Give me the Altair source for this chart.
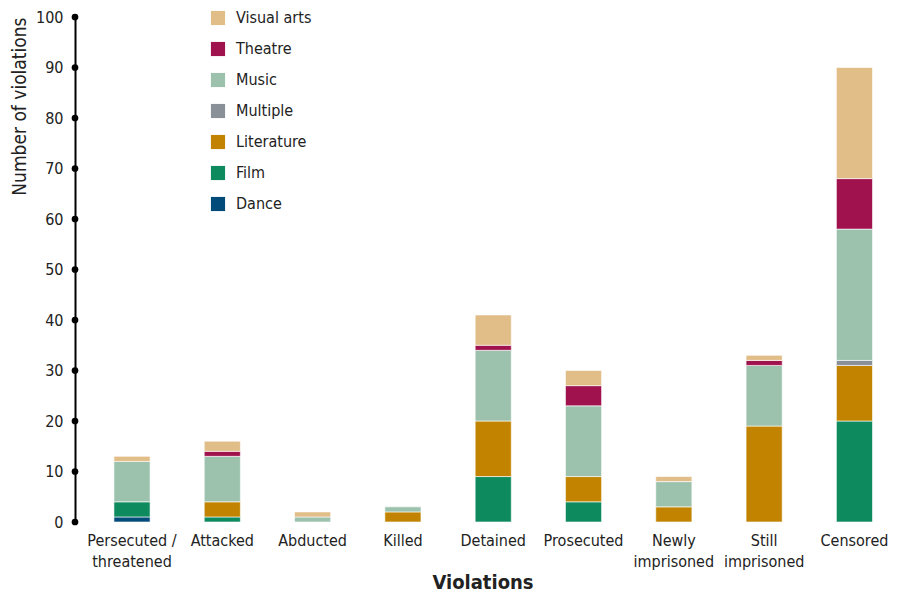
import altair as alt
import pandas as pd

violations = ["Persecuted /\nthreatened", "Attacked", "Abducted", "Killed", "Detained",
              "Prosecuted", "Newly\nimprisoned", "Still\nimprisoned", "Censored"]
# bottom -> top stacking order
art_forms = ["Dance", "Film", "Literature", "Multiple", "Music", "Theatre", "Visual arts"]
colors = ["#004b7a", "#0e8a5f", "#c28400", "#8a9098", "#9cc2ad", "#a0124e", "#e1bd88"]

dance =      [1, 0, 0, 0, 0, 0, 0, 0, 0]
film =       [3, 1, 0, 0, 9, 4, 0, 0, 20]
literature = [0, 3, 0, 2, 11, 5, 3, 19, 11]
multiple =   [0, 0, 0, 0, 0, 0, 0, 0, 1]
music =      [8, 9, 1, 1, 14, 14, 5, 12, 26]
theatre =    [0, 1, 0, 0, 1, 4, 0, 1, 10]
visual_arts = [1, 2, 1, 0, 6, 3, 1, 1, 22]

y_ticks = [0, 10, 20, 30, 40, 50, 60, 70, 80, 90, 100]

series = [dance, film, literature, multiple, music, theatre, visual_arts]
rows = []
for k, (name, vals) in enumerate(zip(art_forms, series)):
    for v, val in zip(violations, vals):
        if val > 0:
            rows.append({"violation": v, "art": name, "count": val, "ord": k})
df = pd.DataFrame(rows)
ticks_df = pd.DataFrame({"t": y_ticks})

FONT = "'DejaVu Sans Condensed', 'Roboto', sans-serif"

yscale = alt.Scale(domain=[0, 100], nice=False)
yaxis = alt.Axis(values=y_ticks, domainColor="black", domainWidth=2,
                 ticks=False, grid=False, labelPadding=12, labelFontSize=16,
                 labelColor="#222", titleFontSize=19, titleFontWeight="normal",
                 titleColor="#222", titlePadding=6, titleAnchor="end",
                 labelFont=FONT, titleFont=FONT)

bars = alt.Chart(df).mark_bar(stroke="white", strokeWidth=0.6).encode(
    x=alt.X("violation:N", sort=violations, title="Violations",
            scale=alt.Scale(paddingInner=0.6, paddingOuter=0.3125, align=0.69),
            axis=alt.Axis(labelExpr="split(datum.value, '\\n')", labelAngle=0,
                          domain=False, ticks=False, grid=False, labelPadding=10,
                          labelLineHeight=21, labelFontSize=16, labelColor="#222",
                          titleFontSize=20, titleFontWeight="bold", titleColor="#222",
                          titlePadding=3, labelFont=FONT, titleFont=FONT)),
    y=alt.Y("count:Q", stack="zero", scale=yscale, title="Number of violations",
            axis=yaxis),
    color=alt.Color("art:N", scale=alt.Scale(domain=art_forms[::-1], range=colors[::-1]),
                    legend=alt.Legend(title=None, orient="none", legendX=135, legendY=-7,
                                      symbolType="square", symbolSize=200,
                                      symbolStrokeWidth=0, labelFontSize=16,
                                      labelColor="#222", rowPadding=15, labelOffset=10,
                                      labelFont=FONT)),
    order=alt.Order("ord:Q", sort="ascending"),
)

dots = alt.Chart(ticks_df).mark_point(filled=True, color="black", size=45, opacity=1).encode(
    x=alt.value(0),
    y=alt.Y("t:Q", scale=yscale, title="Number of violations", axis=yaxis),
)

chart = alt.layer(bars, dots).properties(
    width=815, height=505,
    autosize=alt.AutoSizeParams(type="none"),
    padding={"left": 67, "top": 9, "right": 0, "bottom": 71},
    view=alt.ViewBackground(strokeWidth=0, stroke="transparent"),
).configure_view(strokeWidth=0, strokeOpacity=0).configure_axis(
    grid=False
).configure(font=FONT)

chart.save("out.html", embed_options={"renderer": "svg", "actions": False})
